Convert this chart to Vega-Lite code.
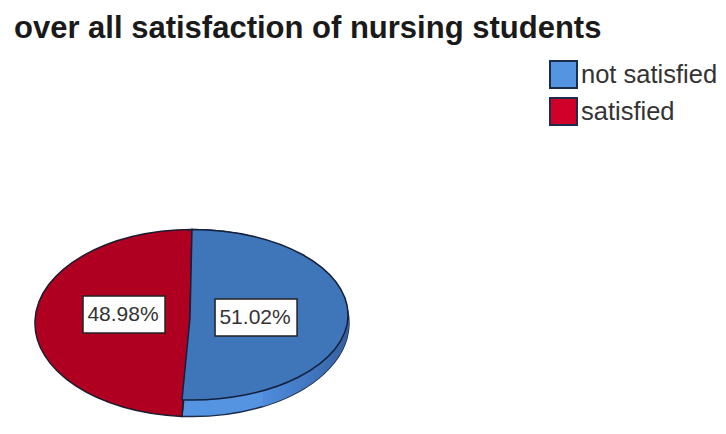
{"$schema":"https://vega.github.io/schema/vega-lite/v6.json","width":726,"height":389,"autosize":"none","padding":{"top":45,"left":0,"right":0,"bottom":0},"background":"white","view":{"stroke":null},"title":{"text":"over all satisfaction of nursing students","anchor":"start","frame":"group","offset":0,"dx":14,"font":"Liberation Sans","fontSize":31,"fontWeight":"bold","color":"#1a1a1a"},"data":{"values":[{"category":"not satisfied","share":0.5102},{"category":"satisfied","share":0.4898}]},"encoding":{"x":{"datum":0,"type":"quantitative","scale":{"domain":[-1.2229,3.4013],"nice":false,"zero":false},"axis":null},"y":{"datum":0,"type":"quantitative","scale":{"domain":[0.707,-1.771],"nice":false,"zero":false},"axis":null},"color":{"field":"category","type":"nominal","scale":{"domain":["not satisfied","satisfied"],"range":["#5594e0","#d0002a"]},"legend":{"title":null,"orient":"none","legendX":549,"legendY":15,"symbolType":"square","symbolSize":729,"symbolStrokeWidth":2,"symbolStrokeColor":"#1c2c4c","labelFont":"Liberation Sans","labelFontSize":25.5,"labelColor":"#333333","labelOffset":3,"rowPadding":2,"labelLimit":200}}},"layer":[{"transform":[{"filter":"datum.category === 'not satisfied'"}],"mark":{"type":"point","filled":true,"opacity":1,"size":98596,"stroke":"#1c2c4c","strokeWidth":1.5,"shape":"M0,-0.596 A1,0.596 0 1 1 -0.0637,0.5948 L0,0 Z"}},{"transform":[{"filter":"datum.category === 'not satisfied'"}],"encoding":{"color":{"value":null}},"mark":{"type":"point","filled":true,"opacity":1,"size":98596,"shape":"M1,-0.02 A1,0.596 0 0 1 0.45,0.532 L0.45,0.43 L0.9,0.1 Z","fill":{"x1":0,"x2":1,"y1":0,"y2":0,"gradient":"linear","stops":[{"offset":0,"color":"#4f8cdc"},{"offset":0.6,"color":"#3f74bc"},{"offset":1,"color":"#355f9c"}]}}},{"transform":[{"filter":"datum.category === 'satisfied'"}],"encoding":{"color":{"value":"#b00022"}},"mark":{"type":"point","filled":true,"opacity":1,"size":98596,"shape":"M0,-0.596 A1,0.596 0 0 0 -0.0637,0.5948 L-0.0127,-0.0318 Z","stroke":"#1c1c30","strokeWidth":1.5}},{"transform":[{"filter":"datum.category === 'not satisfied'"}],"encoding":{"color":{"value":"#3f76ba"}},"mark":{"type":"point","filled":true,"opacity":1,"size":98596,"shape":"M0,-0.596 A0.994,0.545 0 0 1 0.994,-0.051 A0.994,0.541 0 0 1 -0.0637,0.4889 L-0.0127,-0.0318 Z","stroke":"#14203c","strokeWidth":1.5}},{"transform":[{"filter":"datum.category === 'satisfied'"}],"encoding":{"x":{"datum":-0.433},"y":{"datum":-0.054},"color":{"value":"white"}},"layer":[{"mark":{"type":"point","filled":true,"opacity":1,"size":6724,"shape":"M-1,-0.45 H1 V0.45 H-1 Z","stroke":"#222222","strokeWidth":1.5}},{"mark":{"type":"text","font":"Liberation Sans","fontSize":21,"baseline":"middle","align":"center","dx":-1},"encoding":{"color":{"value":"#333333"},"text":{"field":"share","type":"quantitative","format":".2%"}}}]},{"transform":[{"filter":"datum.category === 'not satisfied'"}],"encoding":{"x":{"datum":0.408},"y":{"datum":-0.035},"color":{"value":"white"}},"layer":[{"mark":{"type":"point","filled":true,"opacity":1,"size":6724,"shape":"M-1,-0.45 H1 V0.45 H-1 Z","stroke":"#222222","strokeWidth":1.5}},{"mark":{"type":"text","font":"Liberation Sans","fontSize":21,"baseline":"middle","align":"center","dx":-1},"encoding":{"color":{"value":"#333333"},"text":{"field":"share","type":"quantitative","format":".2%"}}}]}]}
